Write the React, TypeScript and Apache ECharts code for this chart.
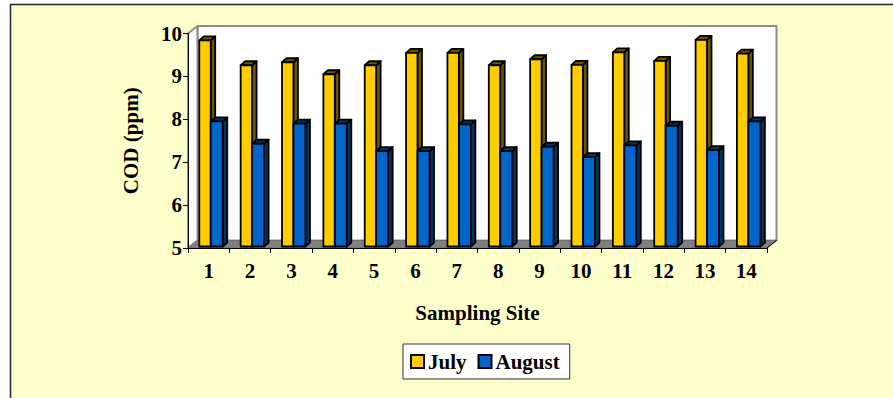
import React, { useEffect, useRef } from "react";
import * as echarts from "echarts";

// Chemical oxygen demand per sampling site, two monthly campaigns
const sites = ["1", "2", "3", "4", "5", "6", "7", "8", "9", "10", "11", "12", "13", "14"];
const julyCOD = [9.84, 9.26, 9.33, 9.05, 9.26, 9.55, 9.55, 9.26, 9.4, 9.27, 9.56, 9.36, 9.85, 9.53];
const augustCOD = [7.95, 7.43, 7.9, 7.9, 7.26, 7.26, 7.88, 7.26, 7.36, 7.12, 7.39, 7.85, 7.28, 7.95];
const yMin = 5;
const yMax = 10;

const FONT = "'Liberation Serif', 'Times New Roman', serif";
const JULY_FRONT = "#FFCC00";
const JULY_SIDE = "#6B5600";
const AUG_FRONT = "#0066CC";
const AUG_SIDE = "#00335E";

// Depth of the room (walls/floor) and of each prism
const WALL_DX = 9.5;
const WALL_DY = -7.5;
const BAR_DX = 4.5;
const BAR_DY = -4;

function prism(frontColor: string, sideColor: string, offsetFrac: number, widthFrac: number) {
  return (params: any, api: any) => {
    const i = api.value(0);
    const v = api.value(1);
    const top = api.coord([i, v]);
    const base = api.coord([i, yMin]);
    const bw = api.size([1, 0])[0];
    const x0 = top[0] + offsetFrac * bw;
    const w = widthFrac * bw;
    const yt = top[1];
    const yb = base[1] - 1.5;
    const stroke = { stroke: "#000", lineWidth: 1.8, lineJoin: "round" };
    return {
      type: "group",
      children: [
        {
          type: "polygon",
          shape: {
            points: [
              [x0 + w, yb],
              [x0 + w + BAR_DX, yb + BAR_DY],
              [x0 + w + BAR_DX, yt + BAR_DY],
              [x0 + w, yt],
            ],
          },
          style: { fill: sideColor, ...stroke },
        },
        {
          type: "polygon",
          shape: {
            points: [
              [x0, yt],
              [x0 + BAR_DX, yt + BAR_DY],
              [x0 + w + BAR_DX, yt + BAR_DY],
              [x0 + w, yt],
            ],
          },
          style: { fill: sideColor, ...stroke },
        },
        {
          type: "rect",
          shape: { x: x0, y: yt, width: w, height: yb - yt },
          style: { fill: frontColor, ...stroke },
        },
      ],
    };
  };
}

// Back wall, side wall and floor of the 3D plot box
function room(params: any) {
  const cs = params.coordSys;
  const x0 = cs.x;
  const x1 = cs.x + cs.width;
  const y0 = cs.y;
  const y1 = cs.y + cs.height;
  const wallStroke = { stroke: "#8C8C8C", lineWidth: 2, lineJoin: "round" };
  return {
    type: "group",
    children: [
      {
        type: "polygon",
        shape: {
          points: [
            [x0 + WALL_DX, y0 + WALL_DY],
            [x1 + WALL_DX, y0 + WALL_DY],
            [x1 + WALL_DX, y1 + WALL_DY],
            [x0 + WALL_DX, y1 + WALL_DY],
          ],
        },
        style: { fill: "#FFFFFF", ...wallStroke },
      },
      {
        type: "polygon",
        shape: {
          points: [
            [x0, y0],
            [x0 + WALL_DX, y0 + WALL_DY],
            [x0 + WALL_DX, y1 + WALL_DY],
            [x0, y1],
          ],
        },
        style: { fill: "#FFFFFF", ...wallStroke },
      },
      {
        type: "polygon",
        shape: {
          points: [
            [x0, y1],
            [x1, y1],
            [x1 + WALL_DX, y1 + WALL_DY],
            [x0 + WALL_DX, y1 + WALL_DY],
          ],
        },
        style: { fill: "#808080", stroke: "#6E6E6E", lineWidth: 1 },
      },
      {
        type: "line",
        shape: { x1: x1, y1: y1, x2: x1 + WALL_DX, y2: y1 + WALL_DY },
        style: { stroke: "#000", lineWidth: 1 },
      },
    ],
  };
}

export default function App() {
  const ref = useRef<HTMLDivElement>(null);

  useEffect(() => {
    if (!ref.current) return;
    const chart = echarts.init(ref.current, null, { renderer: "svg" });
    const labelStyle = { fontFamily: FONT, fontWeight: "bold", fontSize: 21, color: "#000" };
    chart.setOption({
      animation: false,
      backgroundColor: "#FFFFFF",
      graphic: [
        {
          type: "rect",
          z: -10,
          shape: { x: 10.5, y: 4.5, width: 900, height: 400 },
          style: { fill: "#FFFFCC", stroke: "#222", lineWidth: 1.5 },
          silent: true,
        },
      ],
      grid: { left: 188, right: 126, top: 33.5, bottom: 150 },
      legend: {
        left: 403,
        top: 344,
        orient: "horizontal",
        backgroundColor: "#FFFFFF",
        borderColor: "#333",
        borderWidth: 1,
        padding: [7, 10, 7, 7],
        itemGap: 11,
        itemWidth: 13,
        itemHeight: 13,
        icon: "rect",
        textStyle: { ...labelStyle, padding: [0, 0, 0, -1] },
        data: ["July", "August"],
      },
      xAxis: {
        type: "category",
        data: sites,
        z: 10,
        axisLine: { lineStyle: { color: "#000", width: 1 } },
        axisTick: { show: true, length: 5, lineStyle: { color: "#000" } },
        axisLabel: { ...labelStyle, margin: 12 },
        name: "Sampling Site",
        nameLocation: "middle",
        nameGap: 65,
        nameTextStyle: { ...labelStyle, verticalAlign: "middle" },
        splitLine: { show: false },
      },
      yAxis: {
        type: "value",
        min: yMin,
        max: yMax,
        interval: 1,
        z: 10,
        axisLine: { show: true, lineStyle: { color: "#000", width: 1 } },
        axisTick: { show: true, length: 5, lineStyle: { color: "#000" } },
        axisLabel: { ...labelStyle, margin: 6 },
        splitLine: { show: false },
        name: "COD (ppm)",
        nameLocation: "middle",
        nameGap: 57,
        nameRotate: 90,
        nameTextStyle: { ...labelStyle, verticalAlign: "middle" },
      },
      series: [
        {
          type: "custom",
          name: "room",
          silent: true,
          z: 1,
          data: [[0, yMin]],
          encode: { x: 0, y: 1 },
          renderItem: room,
          clip: false,
        },
        {
          type: "custom",
          name: "July",
          z: 2,
          data: julyCOD.map((v, i) => [i, v]),
          encode: { x: 0, y: 1 },
          itemStyle: { color: JULY_FRONT, borderColor: "#000", borderWidth: 2 },
          renderItem: prism(JULY_FRONT, JULY_SIDE, -0.227, 0.276),
        },
        {
          type: "custom",
          name: "August",
          z: 3,
          data: augustCOD.map((v, i) => [i, v]),
          encode: { x: 0, y: 1 },
          itemStyle: { color: AUG_FRONT, borderColor: "#000", borderWidth: 2 },
          renderItem: prism(AUG_FRONT, AUG_SIDE, 0.05, 0.29),
        },
      ],
    });
    return () => chart.dispose();
  }, []);

  return (
    <div
      ref={ref}
      style={{ position: "fixed", left: 0, top: 0, width: 893, height: 398 }}
    />
  );
}
